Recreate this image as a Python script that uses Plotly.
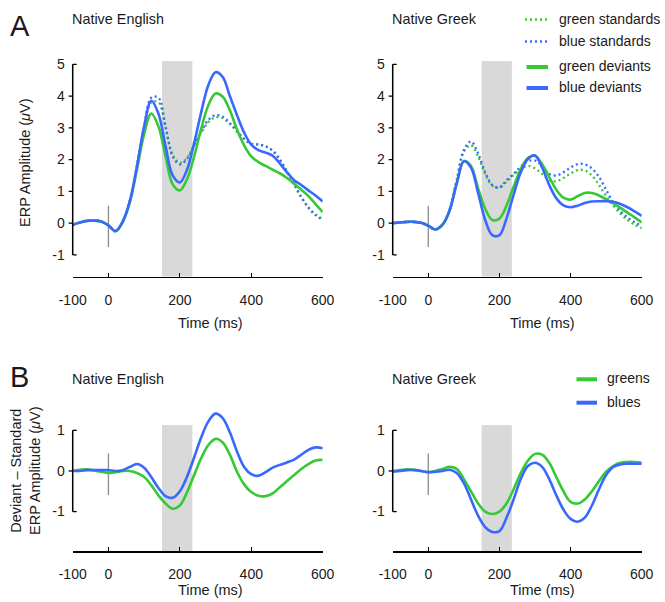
import plotly.graph_objects as go

# ---------------- data ----------------
time_ms = list(range(-100, 601, 20))

# Panel A, Native English
eng_green_dev = [-0.05, 0.02, 0.07, 0.08, 0.05, -0.07, -0.25, 0.03, 0.65, 1.7, 2.8, 3.45, 3.05, 2.1, 1.22, 1.03,
                 1.38, 2.1, 2.98, 3.72, 4.08, 3.98, 3.55, 2.95, 2.45, 2.1, 1.92, 1.8, 1.68, 1.57, 1.42, 1.24, 1.05,
                 0.85, 0.6, 0.35]
eng_blue_dev = [-0.05, 0.02, 0.07, 0.08, 0.05, -0.07, -0.25, 0.05, 0.7, 1.8, 3.05, 3.85, 3.45, 2.42, 1.5, 1.28,
                1.68, 2.52, 3.5, 4.35, 4.75, 4.6, 4.0, 3.4, 2.85, 2.47, 2.3, 2.22, 2.12, 1.88, 1.6, 1.35, 1.2,
                1.03, 0.87, 0.68]
eng_green_std = [-0.05, 0.02, 0.07, 0.08, 0.05, -0.07, -0.25, 0.05, 0.7, 1.8, 3.0, 3.8, 3.8, 3.0, 2.15, 1.9,
                 2.05, 2.45, 2.85, 3.18, 3.33, 3.3, 3.12, 2.88, 2.65, 2.5, 2.48, 2.42, 2.28, 2.0, 1.62, 1.22, 0.82,
                 0.5, 0.28, 0.12]
eng_blue_std = [-0.05, 0.02, 0.07, 0.08, 0.05, -0.07, -0.25, 0.05, 0.7, 1.8, 3.05, 3.95, 3.95, 3.05, 2.1, 1.85,
                2.02, 2.45, 2.88, 3.25, 3.4, 3.35, 3.15, 2.9, 2.65, 2.5, 2.47, 2.42, 2.28, 2.0, 1.62, 1.22, 0.82,
                0.48, 0.25, 0.1]

# Panel A, Native Greek
grk_green_dev = [0.0, 0.02, 0.04, 0.04, 0.01, -0.08, -0.2, -0.05, 0.4, 1.25, 1.95, 1.8, 1.1, 0.45, 0.1, 0.14,
                 0.55, 1.15, 1.7, 2.05, 2.12, 1.85, 1.45, 1.05, 0.8, 0.74, 0.85, 0.95, 0.95, 0.87, 0.75, 0.62,
                 0.48, 0.33, 0.18, 0.02]
grk_blue_dev = [0.0, 0.02, 0.04, 0.04, 0.01, -0.08, -0.2, -0.05, 0.4, 1.25, 1.95, 1.75, 0.95, 0.1, -0.38, -0.38,
                0.15, 0.9, 1.6, 2.02, 2.13, 1.75, 1.2, 0.78, 0.56, 0.5, 0.55, 0.63, 0.68, 0.69, 0.69, 0.67, 0.6,
                0.5, 0.37, 0.23]
grk_green_std = [0.0, 0.02, 0.04, 0.04, 0.01, -0.08, -0.2, -0.05, 0.42, 1.35, 2.25, 2.45, 2.1, 1.55, 1.18, 1.12,
                 1.3, 1.52, 1.7, 1.8, 1.72, 1.55, 1.35, 1.32, 1.42, 1.56, 1.67, 1.66, 1.5, 1.2, 0.85, 0.55, 0.3,
                 0.1, -0.05, -0.16]
grk_blue_std = [0.0, 0.02, 0.04, 0.04, 0.01, -0.08, -0.2, -0.05, 0.42, 1.35, 2.3, 2.57, 2.2, 1.6, 1.2, 1.12,
                1.35, 1.55, 1.78, 1.95, 1.97, 1.8, 1.55, 1.5, 1.6, 1.75, 1.86, 1.85, 1.72, 1.45, 1.05, 0.65, 0.38,
                0.18, 0.03, -0.08]

# Panel B, deviant - standard differences
eng_greens_diff = [0.0, 0.03, 0.04, 0.01, -0.02, -0.05, -0.03, 0.0, 0.0, -0.05, -0.15, -0.35, -0.6, -0.8, -0.93,
                   -0.85, -0.53, -0.1, 0.32, 0.64, 0.79, 0.7, 0.4, -0.02, -0.33, -0.52, -0.61, -0.62, -0.55,
                   -0.4, -0.25, -0.1, 0.05, 0.17, 0.26, 0.27]
eng_blues_diff = [0.0, 0.0, 0.02, 0.02, 0.02, 0.02, 0.0, 0.02, 0.1, 0.17, 0.08, -0.15, -0.42, -0.62, -0.66, -0.5,
                  -0.14, 0.33, 0.83, 1.22, 1.41, 1.3, 0.95, 0.48, 0.1, -0.08, -0.12, -0.03, 0.08, 0.15, 0.21, 0.28,
                  0.4, 0.52, 0.58, 0.56]
grk_greens_diff = [0.0, 0.02, 0.04, 0.03, 0.0, -0.03, 0.0, 0.05, 0.1, 0.05, -0.2, -0.5, -0.8, -1.0, -1.06, -1.0,
                   -0.8, -0.45, -0.05, 0.25, 0.42, 0.4, 0.2, -0.15, -0.5, -0.76, -0.8, -0.7, -0.5, -0.25, -0.02,
                   0.12, 0.2, 0.22, 0.22, 0.2]
grk_blues_diff = [-0.02, 0.0, 0.02, 0.02, 0.0, -0.03, -0.02, 0.0, 0.03, -0.05, -0.3, -0.7, -1.1, -1.38, -1.5,
                  -1.48, -1.15, -0.7, -0.2, 0.12, 0.2, 0.1, -0.2, -0.6, -0.95, -1.18, -1.25, -1.15, -0.85, -0.45,
                  -0.1, 0.1, 0.16, 0.18, 0.18, 0.18]

x_ticks = [-100, 0, 200, 400, 600]
a_yticks = [-1, 0, 1, 2, 3, 4, 5]
b_yticks = [-1, 0, 1]
window_ms = [150, 235]          # shaded analysis window
a_range = [-1.68, 5.1]
b_range = [-1.97, 1.5]
b_window_top = 1.13

GREEN = "#36c936"
BLUE = "#3a68ff"
FONT = "Liberation Sans, Arial, sans-serif"
TXT = "#1a1a1a"
W, H = 665, 602


def px(x):
    return x / W


def py(y):
    return 1 - y / H


fig = go.Figure()

panels = [
    ("x", "y", [(eng_green_std, GREEN, "dot"), (eng_blue_std, BLUE, "dot"),
                (eng_green_dev, GREEN, "solid"), (eng_blue_dev, BLUE, "solid")]),
    ("x2", "y2", [(grk_green_std, GREEN, "dot"), (grk_blue_std, BLUE, "dot"),
                  (grk_green_dev, GREEN, "solid"), (grk_blue_dev, BLUE, "solid")]),
    ("x3", "y3", [(eng_greens_diff, GREEN, "solid"), (eng_blues_diff, BLUE, "solid")]),
    ("x4", "y4", [(grk_greens_diff, GREEN, "solid"), (grk_blues_diff, BLUE, "solid")]),
]
for xa, ya, series in panels:
    for vals, col, dash in series:
        fig.add_trace(go.Scatter(
            x=time_ms, y=vals, xaxis=xa, yaxis=ya, mode="lines",
            line=dict(color=col, width=2.3 if dash == "dot" else 2.6,
                      dash="2px,3px" if dash == "dot" else "solid", shape="spline", smoothing=1.0),
            showlegend=False, hoverinfo="skip"))

XL = (72.7, 322.7)
XR = (392.7, 641.7)
xdom_l = [px(XL[0]), px(XL[1])]
xdom_r = [px(XR[0]), px(XR[1])]
ydom_a = [py(276.5), py(61.1)]
ydom_b = [py(551), py(410)]

axis_font = dict(family=FONT, size=14, color=TXT)


def xaxis(dom, anchor):
    return dict(domain=dom, anchor=anchor, range=[-100, 600], tickvals=x_ticks,
                ticktext=[str(v) for v in x_ticks], ticks="inside", ticklen=4, tickwidth=1.3,
                tickcolor="black", showline=True, linecolor="black", linewidth=1.5,
                showgrid=False, zeroline=False, tickfont=axis_font, ticklabelstandoff=10,
                automargin=False, fixedrange=True)


def yaxis(dom, anchor, rng, tv):
    return dict(domain=dom, anchor=anchor, range=rng, tickvals=tv,
                ticktext=[str(v) for v in tv], ticks="", showline=False, showgrid=False,
                zeroline=False, tickfont=axis_font, ticklabelstandoff=7, automargin=False,
                fixedrange=True)


fig.update_layout(
    template="none",
    width=W, height=H, margin=dict(l=0, r=0, t=0, b=0, pad=0, autoexpand=False),
    paper_bgcolor="white", plot_bgcolor="white",
    font=dict(family=FONT, color=TXT),
    xaxis=xaxis(xdom_l, "y"), yaxis=yaxis(ydom_a, "x", a_range, a_yticks),
    xaxis2=xaxis(xdom_r, "y2"), yaxis2=yaxis(ydom_a, "x2", a_range, a_yticks),
    xaxis3=xaxis(xdom_l, "y3"), yaxis3=yaxis(ydom_b, "x3", b_range, b_yticks),
    xaxis4=xaxis(xdom_r, "y4"), yaxis4=yaxis(ydom_b, "x4", b_range, b_yticks),
)

TICK = 4.0  # tick length in px
shapes = []
for i, (xr, yr) in enumerate([("x", "y"), ("x2", "y2"), ("x3", "y3"), ("x4", "y4")]):
    top = i < 2
    width_px = (XL[1] - XL[0]) if i % 2 == 0 else (XR[1] - XR[0])
    t = TICK / width_px
    # shaded window
    if top:
        shapes.append(dict(type="rect", xref=xr, yref=yr + " domain", x0=window_ms[0], x1=window_ms[1],
                           y0=0, y1=1, fillcolor="#d9d9d9", line=dict(width=0), layer="below"))
    else:
        shapes.append(dict(type="rect", xref=xr, yref=yr, x0=window_ms[0], x1=window_ms[1],
                           y0=b_range[0], y1=b_window_top, fillcolor="#d9d9d9", line=dict(width=0),
                           layer="below"))
    # stimulus onset marker
    y0, y1 = (-0.75, 0.55) if top else (-0.59, 0.43)
    shapes.append(dict(type="line", xref=xr, yref=yr, x0=0, x1=0, y0=y0, y1=y1,
                       line=dict(color="#8c8c8c", width=1.3), layer="below"))
    # y spine spanning the tick range, with end caps and outward ticks
    tv = a_yticks if top else b_yticks
    shapes.append(dict(type="line", xref=xr + " domain", yref=yr, x0=0, x1=0, y0=tv[0], y1=tv[-1],
                       line=dict(color="black", width=1.5)))
    for v in tv:
        if v in (tv[0], tv[-1]):
            xa0, xa1 = 0, t
        else:
            xa0, xa1 = -t, 0
        shapes.append(dict(type="line", xref=xr + " domain", yref=yr, x0=xa0, x1=xa1, y0=v, y1=v,
                           line=dict(color="black", width=1.3)))

# legends (manual)
leg_a = [("green standards", GREEN, "dot", 19.5), ("blue standards", BLUE, "dot", 41.5),
         ("green deviants", GREEN, "solid", 67.0), ("blue deviants", BLUE, "solid", 88.0)]
for label, col, dash, yy in leg_a:
    if dash == "dot":
        shapes.append(dict(type="line", xref="paper", yref="paper", x0=px(525), x1=px(547),
                           y0=py(yy), y1=py(yy), line=dict(color=col, width=2.5, dash="2px,3px")))
    else:
        shapes.append(dict(type="line", xref="paper", yref="paper", x0=px(526.5), x1=px(548),
                           y0=py(yy), y1=py(yy), line=dict(color=col, width=4)))
leg_b = [("greens", GREEN, 379.3), ("blues", BLUE, 402.7)]
for label, col, yy in leg_b:
    shapes.append(dict(type="line", xref="paper", yref="paper", x0=px(576.5), x1=px(597),
                       y0=py(yy), y1=py(yy), line=dict(color=col, width=4)))
fig.update_layout(shapes=shapes)

ann = []


def text(x, y, s, size=14, xanchor="left", angle=0):
    ann.append(dict(x=px(x), y=py(y), xref="paper", yref="paper", text=s, showarrow=False,
                    xanchor=xanchor, yanchor="middle", textangle=angle,
                    font=dict(family=FONT, size=size, color=TXT)))


for label, col, dash, yy in leg_a:
    text(556.5, yy - 1, label, 14)
for label, col, yy in leg_b:
    text(604.5, yy - 1, label, 14)

text(8, 25.5, "A", 29)
text(8, 377, "B", 29)
text(70, 19.3, "Native English", 14.4)
text(390, 19.3, "Native Greek", 14.4)
text(70, 379.3, "Native English", 14.4)
text(390, 379.3, "Native Greek", 14.4)
text(210, 322.7, "Time (ms)", 14.5, "center")
text(542, 322.7, "Time (ms)", 14.5, "center")
text(210, 589.5, "Time (ms)", 14.5, "center")
text(542, 589.5, "Time (ms)", 14.5, "center")
text(25, 163, "ERP Amplitude (<i>μ</i>V)", 14.5, "center", -90)
text(25, 471, "Deviant – Standard<br>ERP Amplitude (<i>μ</i>V)", 14.5, "center", -90)
fig.update_layout(annotations=ann)

fig.write_html("out.html", config={"displayModeBar": False, "staticPlot": True},
               post_script="document.body.style.margin='0px';document.body.style.overflow='hidden';")
